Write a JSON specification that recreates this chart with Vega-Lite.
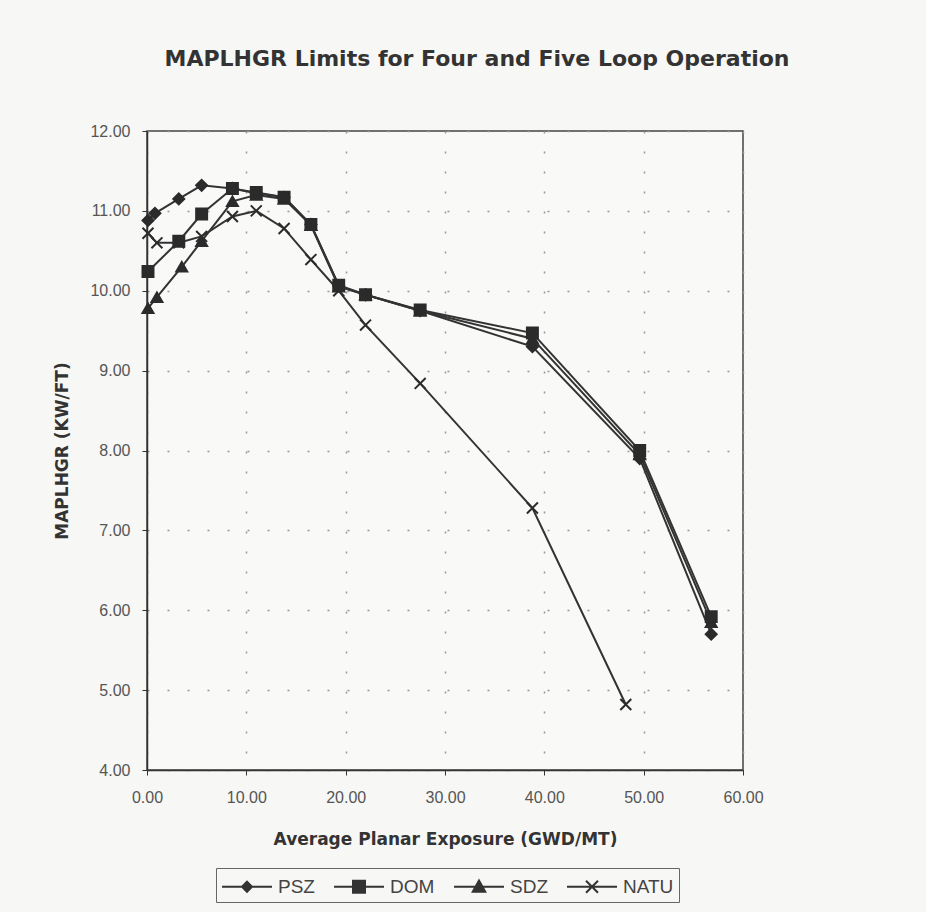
{
  "$schema": "https://vega.github.io/schema/vega-lite/v6.json",
  "autosize": "none",
  "width": 596,
  "height": 639,
  "padding": {"left": 147, "top": 131, "right": 183, "bottom": 142},
  "background": "#f7f7f5",
  "title": {
    "text": "MAPLHGR Limits for Four and Five Loop Operation",
    "font": "DejaVu Sans",
    "fontSize": 22,
    "fontWeight": "bold",
    "color": "#333333",
    "anchor": "middle",
    "frame": "group",
    "baseline": "alphabetic",
    "offset": 35,
    "dx": 32
  },
  "config": {
    "view": {"stroke": "#444444", "strokeWidth": 1.5, "fill": "#f9f9f8"},
    "axis": {
      "labelFont": "Liberation Sans",
      "labelFontSize": 16,
      "labelColor": "#555555",
      "labelFlush": false,
      "titleFont": "DejaVu Sans",
      "titleFontSize": 17,
      "titleFontWeight": "bold",
      "titleColor": "#333333",
      "domainColor": "#333333",
      "domainWidth": 1.5,
      "tickColor": "#333333",
      "tickSize": 5,
      "gridColor": "#999999",
      "gridDash": [2, 18],
      "gridWidth": 1.5
    }
  },
  "data": {
    "values": [
      {"series": "PSZ", "x": 0.1, "y": 10.88},
      {"series": "PSZ", "x": 0.8, "y": 10.97},
      {"series": "PSZ", "x": 3.2, "y": 11.15},
      {"series": "PSZ", "x": 5.5, "y": 11.32},
      {"series": "PSZ", "x": 8.6, "y": 11.28},
      {"series": "PSZ", "x": 11.0, "y": 11.22},
      {"series": "PSZ", "x": 13.8, "y": 11.17},
      {"series": "PSZ", "x": 16.5, "y": 10.83},
      {"series": "PSZ", "x": 19.3, "y": 10.06},
      {"series": "PSZ", "x": 22.0, "y": 9.95},
      {"series": "PSZ", "x": 27.5, "y": 9.75},
      {"series": "PSZ", "x": 38.8, "y": 9.3},
      {"series": "PSZ", "x": 49.6, "y": 7.9},
      {"series": "PSZ", "x": 56.8, "y": 5.7},
      {"series": "DOM", "x": 0.1, "y": 10.24},
      {"series": "DOM", "x": 3.2, "y": 10.62},
      {"series": "DOM", "x": 5.5, "y": 10.96},
      {"series": "DOM", "x": 8.6, "y": 11.28},
      {"series": "DOM", "x": 11.0, "y": 11.23},
      {"series": "DOM", "x": 13.8, "y": 11.17},
      {"series": "DOM", "x": 16.5, "y": 10.83},
      {"series": "DOM", "x": 19.3, "y": 10.07},
      {"series": "DOM", "x": 22.0, "y": 9.95},
      {"series": "DOM", "x": 27.5, "y": 9.76},
      {"series": "DOM", "x": 38.8, "y": 9.47},
      {"series": "DOM", "x": 49.6, "y": 8.0},
      {"series": "DOM", "x": 56.8, "y": 5.92},
      {"series": "SDZ", "x": 0.1, "y": 9.78},
      {"series": "SDZ", "x": 1.0, "y": 9.92},
      {"series": "SDZ", "x": 3.5, "y": 10.3},
      {"series": "SDZ", "x": 5.5, "y": 10.62},
      {"series": "SDZ", "x": 8.6, "y": 11.12},
      {"series": "SDZ", "x": 11.0, "y": 11.2},
      {"series": "SDZ", "x": 13.8, "y": 11.15},
      {"series": "SDZ", "x": 16.5, "y": 10.82},
      {"series": "SDZ", "x": 19.3, "y": 10.05},
      {"series": "SDZ", "x": 22.0, "y": 9.95},
      {"series": "SDZ", "x": 27.5, "y": 9.75},
      {"series": "SDZ", "x": 38.8, "y": 9.4},
      {"series": "SDZ", "x": 49.6, "y": 7.95},
      {"series": "SDZ", "x": 56.8, "y": 5.85},
      {"series": "NATU", "x": 0.1, "y": 10.72},
      {"series": "NATU", "x": 1.0, "y": 10.6},
      {"series": "NATU", "x": 3.2, "y": 10.6},
      {"series": "NATU", "x": 5.5, "y": 10.68},
      {"series": "NATU", "x": 8.6, "y": 10.93},
      {"series": "NATU", "x": 11.0, "y": 11.0},
      {"series": "NATU", "x": 13.8, "y": 10.78},
      {"series": "NATU", "x": 16.5, "y": 10.39},
      {"series": "NATU", "x": 19.3, "y": 10.0},
      {"series": "NATU", "x": 22.0, "y": 9.57},
      {"series": "NATU", "x": 27.5, "y": 8.84},
      {"series": "NATU", "x": 38.8, "y": 7.28},
      {"series": "NATU", "x": 48.2, "y": 4.82}
    ]
  },
  "encoding": {
    "x": {
      "field": "x",
      "type": "quantitative",
      "scale": {"domain": [0, 60], "nice": false},
      "axis": {
        "values": [0, 10, 20, 30, 40, 50, 60],
        "format": ".2f",
        "labelPadding": 14,
        "title": "Average Planar Exposure (GWD/MT)",
        "titlePadding": 26
      }
    },
    "y": {
      "field": "y",
      "type": "quantitative",
      "scale": {"domain": [4, 12], "nice": false, "zero": false},
      "axis": {
        "values": [4, 5, 6, 7, 8, 9, 10, 11, 12],
        "format": ".2f",
        "labelPadding": 12,
        "title": "MAPLHGR (KW/FT)",
        "titlePadding": 18
      }
    }
  },
  "resolve": {"scale": {"shape": "independent"}, "legend": {"shape": "independent"}},
  "layer": [
    {
      "mark": {"type": "line", "color": "#333333", "strokeWidth": 2},
      "encoding": {"detail": {"field": "series"}}
    },
    {
      "mark": {"type": "point", "filled": true, "color": "#2b2b2b", "stroke": "#2b2b2b", "strokeWidth": 2, "size": 120, "opacity": 1},
      "encoding": {
        "shape": {
          "field": "series",
          "type": "nominal",
          "scale": {
            "domain": ["PSZ", "DOM", "SDZ", "NATU"],
            "range": ["diamond", "square", "triangle-up", "M-1,-1L1,1M-1,1L1,-1"]
          },
          "legend": null
        }
      }
    },
    {
      "mark": {"type": "point", "filled": false, "color": "#333333", "strokeWidth": 2, "size": 0, "opacity": 0},
      "encoding": {
        "shape": {
          "field": "series",
          "type": "nominal",
          "scale": {
            "domain": ["PSZ", "DOM", "SDZ", "NATU"],
            "range": [
              "M-1,0H3M1,-0.4L1.4,0L1,0.4L0.6,0ZM0.9,-0.3H1.1M0.75,-0.15H1.25M0.75,0.15H1.25M0.9,0.3H1.1",
              "M-1,0H3M0.52,-0.48H1.48V0.48H0.52ZM0.52,-0.36H1.48M0.52,-0.24H1.48M0.52,-0.12H1.48M0.52,0.12H1.48M0.52,0.24H1.48M0.52,0.36H1.48",
              "M-1,0H3M1,-0.5L1.5,0.4H0.5ZM0.917,-0.35H1.083M0.833,-0.2H1.167M0.75,-0.05H1.25M0.667,0.1H1.333M0.583,0.25H1.417",
              "M-1,0H3M0.52,-0.48L1.48,0.48M0.52,0.48L1.48,-0.48"
            ]
          },
          "legend": {
            "orient": "none",
            "legendX": 69,
            "legendY": 737,
            "direction": "horizontal",
            "title": null,
            "strokeColor": "#666666",
            "padding": 5,
            "symbolSize": 625,
            "symbolOpacity": 1,
            "symbolFillColor": "#333333",
            "symbolStrokeColor": "#333333",
            "symbolStrokeWidth": 2,
            "labelOffset": 30,
            "columnPadding": 15,
            "labelFont": "Liberation Sans",
            "labelFontSize": 19,
            "labelColor": "#444444"
          }
        }
      }
    }
  ]
}
